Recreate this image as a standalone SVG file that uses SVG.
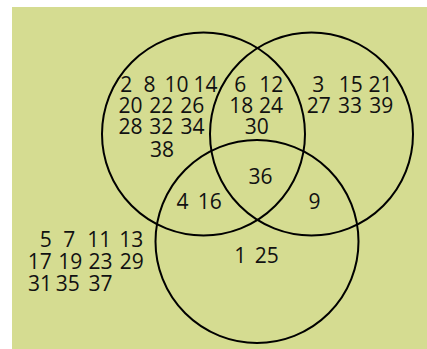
<svg xmlns="http://www.w3.org/2000/svg" width="427" height="349" viewBox="0 0 427 349">
<style>
.c{fill:none;stroke:#000;stroke-width:2}
text{font-family:"Open Sans","Noto Sans",sans-serif;font-size:21px;fill:#111;text-anchor:middle}
</style>
<rect x="12" y="7" width="415" height="342" fill="#d5dc91"/>
<g id="circleA"><circle class="c" cx="203.5" cy="134" r="101.5"/></g>
<g id="circleB"><circle class="c" cx="311.5" cy="134" r="101.5"/></g>
<g id="circleC"><circle class="c" cx="257" cy="241.5" r="101.5"/></g>
<g id="onlyA">
<text x="126.3" y="92">2</text><text x="149.5" y="92">8</text><text x="176.5" y="92">10</text><text x="205.5" y="92">14</text>
<text x="130.5" y="112.7">20</text><text x="161.2" y="112.7">22</text><text x="192.2" y="112.7">26</text>
<text x="130.5" y="134.3">28</text><text x="161.2" y="134.3">32</text><text x="192.5" y="134.3">34</text>
<text x="162" y="156.7">38</text>
</g>
<g id="AB">
<text x="240.2" y="92">6</text><text x="271.3" y="92">12</text>
<text x="241.2" y="112.7">18</text><text x="271" y="112.7">24</text>
<text x="256.7" y="134.3">30</text>
</g>
<g id="onlyB">
<text x="318.3" y="92">3</text><text x="350.8" y="92">15</text><text x="380.5" y="92">21</text>
<text x="318.7" y="112.7">27</text><text x="350" y="112.7">33</text><text x="381.3" y="112.7">39</text>
</g>
<g id="ABC"><text x="260.5" y="184">36</text></g>
<g id="AC"><text x="182.5" y="209">4</text><text x="209.8" y="209">16</text></g>
<g id="BC"><text x="314.5" y="209">9</text></g>
<g id="onlyC"><text x="240.3" y="263.3">1</text><text x="266.7" y="263.3">25</text></g>
<g id="none">
<text x="45.8" y="246.7">5</text><text x="69.2" y="246.7">7</text><text x="99.2" y="246.7">11</text><text x="131.2" y="246.7">13</text>
<text x="39.7" y="269">17</text><text x="70.2" y="269">19</text><text x="100.5" y="269">23</text><text x="131.7" y="269">29</text>
<text x="40" y="290.7">31</text><text x="67.7" y="290.7">35</text><text x="100.5" y="290.7">37</text>
</g>
<g id="connectors"></g>
</svg>
